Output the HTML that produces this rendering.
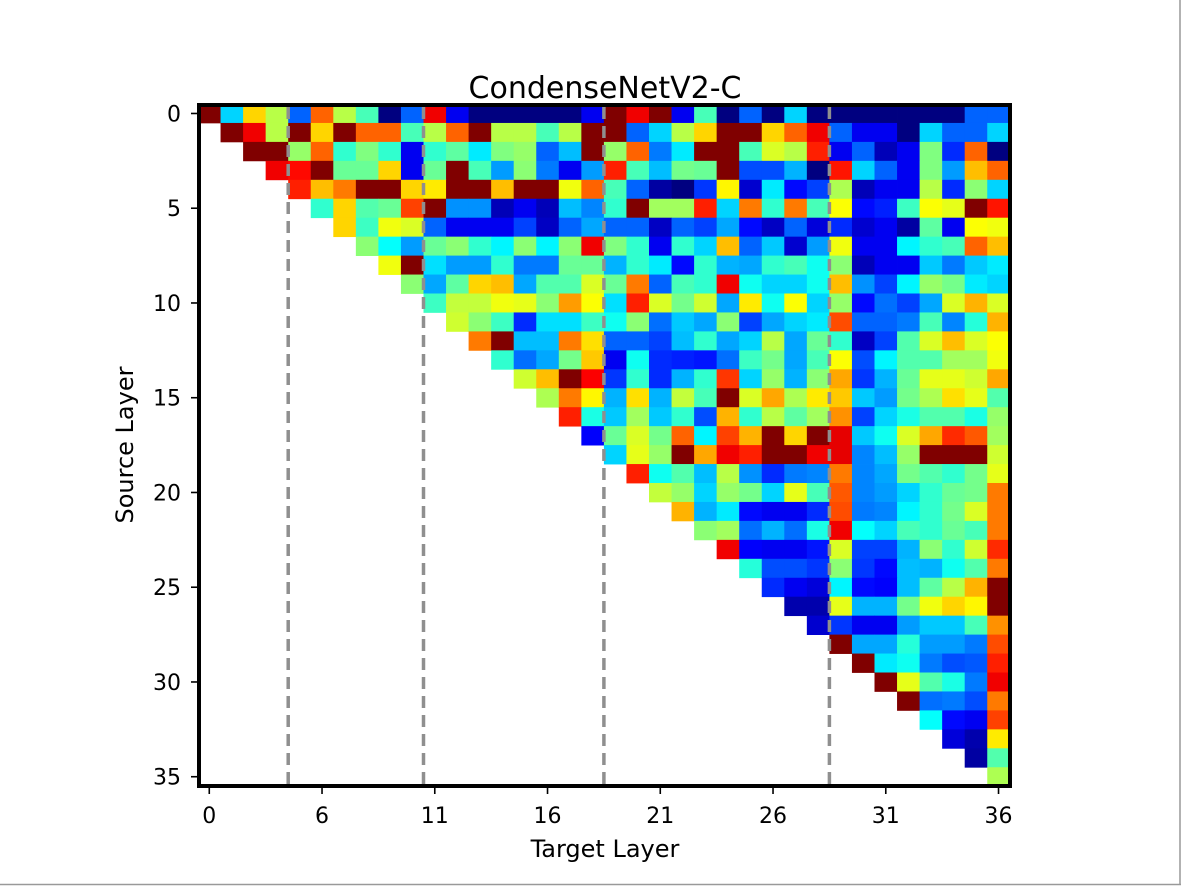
<!DOCTYPE html>
<html><head><meta charset="utf-8"><style>
html,body{margin:0;padding:0;background:#fff;}
#fig{position:relative;width:1181px;height:886px;overflow:hidden;background:#fff;}
svg text{font-family:"DejaVu Sans","Liberation Sans",sans-serif;fill:#000;}
</style></head><body>
<div id="fig">
<svg id="chart" width="1181" height="886" viewBox="0 0 1181 886">
<rect x="0" y="0" width="1181" height="886" fill="#fff"/>
<line x1="1180" y1="0" x2="1180" y2="885" stroke="#999" stroke-width="1.5"/>
<line x1="0" y1="884.5" x2="1181" y2="884.5" stroke="#999" stroke-width="1.5"/>
<defs><clipPath id="plotclip"><rect x="199" y="105" width="811" height="681"/></clipPath></defs>
<g id="cells" clip-path="url(#plotclip)"></g>
<g id="dashes"></g>
<rect x="199" y="105" width="811" height="681" fill="none" stroke="#000" stroke-width="4"/>
<g id="xticks"></g>
<g id="yticks"></g>
<text x="605" y="98" font-size="30" text-anchor="middle">CondenseNetV2-C</text>
<text x="605" y="857" font-size="24" text-anchor="middle">Target Layer</text>
<text x="133" y="445" font-size="24" text-anchor="middle" transform="rotate(-90 133 445)">Source Layer</text>
</svg>
</div>
<script>
// values on a 0-9 scale (0 = lowest, 9 = highest), row r starts at column r
const row00 = [9,3,6,5,2,7,5,4,0,2,8,1,0,0,0,0,0,1,9,8,9,1,4,0,2,0,3,0,0,0,0,0,0,0,2,2];
const row01 = [9,8,5,9,6,9,7,7,4,5,7,9,5,5,4,5,9,9,2,3,5,6,9,9,6,7,8,2,1,1,0,3,2,2,3];
const row02 = [9,9,4.7,7,3.8,4.5,3.8,1,3.8,4.2,3.2,4.5,4.7,2,2.8,9,4.7,7,2.2,3.2,9,9,4,5.3,5,7.6,1,2,0.5,1,4.5,1.5,7,0];
const row03 = [8,7.8,9,4.3,4.3,6,1,4.3,9,4,2.5,4.6,2.2,1,2.5,7.6,4,2.8,4.4,4.3,9,1.8,1.8,2.7,0,7.7,3,2,1,4.5,2.5,6.2,7];
const row04 = [7.6,6.2,6.8,9,9,6,5.8,9,9,6.2,9,9,5.5,7,4,2,0.3,0,1.6,5.7,0.7,3.2,1.2,1.7,4.9,0.5,1,1,5,1.5,4.6,3];
const row05 = [3.8,6,4.1,4.3,7.3,9,2.4,2.4,0.5,1,0.5,2.8,2.3,3.8,9,4.8,4.8,7.6,3,6.8,3.8,6.8,4,5.6,1.2,1.4,3.9,5.6,5.4,9,7.7];
const row06 = [6,3.9,5.5,5.3,2,1,1,1,1.7,0.6,2,2.6,2,2,0.6,2,1.7,2.6,1.2,0.6,2,0.8,1.5,0.7,1,0.3,4.2,1,5.6,5.5];
const row07 = [4.6,3.4,2.5,4.3,4.6,3.8,3.3,4.6,3.3,4.6,8,4.5,3.8,1,3.8,3,6.2,2,2.9,0.7,2.5,5.5,1,1,3.3,3.8,4,7,6.2];
const row08 = [5.5,9,3.1,2.5,2.5,3.8,2.2,2.2,4.3,4.3,2.7,3.8,3.2,1.2,3.8,2.7,2.6,3.8,4,3.5,4.6,0.5,1,1,2.9,2.2,2.9,3.2];
const row09 = [4.6,2.6,4.2,6,6.2,2.6,4.1,4.1,5.3,4.3,6.8,2,4,3.8,8,3.5,3,3,3.5,6.2,2.4,1.7,3.3,4.7,4.4,3.2,3];
const row10 = [3.9,5.1,5.1,5.5,5.4,4.6,6.5,5.6,3.1,7.6,5.3,4.4,5.2,2.6,5.8,3.5,5.6,3,4.7,1.2,2.1,1.7,2.6,5.3,6.3,5.3];
const row11 = [5.2,4.6,3.9,1.5,3.1,3.1,3.9,3.5,4.6,2.1,2.9,2.6,4.6,1.7,2.6,3,3.2,7.2,2,2,2.2,4,2.3,3.7,6.3];
const row12 = [6.8,9,2.8,2.8,6.8,5.9,2,2,1.7,2.8,3.8,2.6,3,5,2.6,4.3,3.8,0.6,1.7,4.1,5.3,6.2,5.3,5.6];
const row13 = [3.8,2.1,2.6,4.4,6.1,1,3.5,1.5,1.4,1.3,2.1,3.9,4.4,2.6,4,5.6,1.8,3.3,4.1,4.1,4.8,4.8,5.5];
const row14 = [5.2,6.2,9,7.9,1.6,3.8,1.5,2.7,3.8,7.4,3,4.7,2.7,4.6,6.4,1.6,2.7,4.3,5.4,5.4,5.2,6.4];
const row15 = [4.9,6.8,5.7,2.7,5.9,2.7,5.1,4,9,5.3,6.4,4.9,5.8,6.1,2.9,2.5,4.4,4.9,5.9,5.4,4.1];
const row16 = [7.6,3.6,2.9,4.8,2.9,3.8,1.8,6.3,3.8,5,4.2,4.8,6.6,1.7,3,3.6,4.1,4.1,3.6,4.7];
const row17 = [1.1,4.3,5.3,4.4,7,3.3,7.3,6.3,9,6,9,8.1,2.9,3.5,5.3,6.4,7.5,7.1,4.8];
const row18 = [3,5.4,4.7,9,6.4,8,7.6,9,9,8,8.1,2.3,2.8,4.7,9,9,9,5.2];
const row19 = [7.6,3.5,4.1,2.8,5,2.4,1.5,2.2,2.3,6.8,2.3,2.6,4.4,4.1,3.8,4.4,5.4];
const row20 = [5.1,4.7,3,4.7,4.4,3,5.4,4,7.1,2.3,2.5,3,3.8,4.3,4.4,6.8];
const row21 = [6.3,2.7,3.2,1.2,1,1,1.5,7.2,2.2,2.3,3.3,3.8,4.4,5.3,6.8];
const row22 = [4.6,4.8,2.1,2.7,2.1,3.6,8,3.4,3,4,3.8,4.3,4,6.8];
const row23 = [8,1.1,1,1,1.3,5.3,1.7,1.7,2.7,4.6,3.8,5.2,7.5];
const row24 = [3.7,1.8,1.8,1.6,4.6,1.6,1.2,2.8,2.7,3.5,4.1,6.8];
const row25 = [1.5,1,0.8,3.3,1.2,1.1,2.8,4.2,5,6.3,9];
const row26 = [0.4,0.4,5.4,2.7,2.7,4.4,5.5,6,5.7,9];
const row27 = [0.7,1.6,1,1,2.5,2.9,2.9,4,6.6];
const row28 = [9,2.6,2.6,3.7,2.5,2.5,2.2,7.2];
const row29 = [9,3.2,3.5,2.2,1.8,1.9,7.6];
const row30 = [9,5.4,4.1,3.6,2.2,8];
const row31 = [9,2.1,2.2,1.8,6.8];
const row32 = [3.4,1.2,1,7.3];
const row33 = [0.8,0.4,5.8];
const row34 = [0.3,4.1];
const row35 = [4.9];
const rows = [row00,row01,row02,row03,row04,row05,row06,row07,row08,row09,row10,row11,row12,row13,row14,row15,row16,row17,row18,row19,row20,row21,row22,row23,row24,row25,row26,row27,row28,row29,row30,row31,row32,row33,row34,row35];
const xTickPositions = [0,5,10,15,20,25,30,35];
const xTickLabels = ["0","6","11","16","21","26","31","36"];
const yTickPositions = [0,5,10,15,20,25,30,35];
const yTickLabels = ["0","5","10","15","20","25","30","35"];
const blockBoundaries = [3.5,9.5,17.5,27.5];
const vmax = 9;

const NS = "http://www.w3.org/2000/svg";
const CW = 22.55, CH = 18.95, X0 = 198, Y0 = 104;
function xLeft(c){ return X0 + CW*c; }
function xCenter(c){ return X0 + CW*(c+0.5); }
function yTop(r){ return Y0 + CH*r; }
function yCenter(r){ return Y0 + CH*(r+0.5); }
function clip(v){ return Math.max(0, Math.min(1, v)); }
function jet(t){
  const r = clip(1.5 - Math.abs(4*t-3)), g = clip(1.5 - Math.abs(4*t-2)), b = clip(1.5 - Math.abs(4*t-1));
  return "rgb(" + Math.round(r*255) + "," + Math.round(g*255) + "," + Math.round(b*255) + ")";
}
const cells = document.getElementById("cells");
rows.forEach(function(vals, r){
  vals.forEach(function(v, i){
    const c = r + i;
    const rect = document.createElementNS(NS, "rect");
    rect.setAttribute("x", xLeft(c).toFixed(2));
    rect.setAttribute("y", yTop(r).toFixed(2));
    rect.setAttribute("width", (CW+0.4).toFixed(2));
    rect.setAttribute("height", (CH+0.4).toFixed(2));
    rect.setAttribute("fill", jet(v/vmax));
    
    
    cells.appendChild(rect);
  });
});
const dashes = document.getElementById("dashes");
blockBoundaries.forEach(function(b){
  const ln = document.createElementNS(NS, "line");
  const x = xCenter(b);
  ln.setAttribute("x1", x); ln.setAttribute("x2", x);
  ln.setAttribute("y1", 107); ln.setAttribute("y2", 784);
  ln.setAttribute("stroke", "#8f8f8f");
  ln.setAttribute("stroke-width", "3.5");
  ln.setAttribute("stroke-dasharray", "12,7");
  
  
  dashes.appendChild(ln);
});
const xt = document.getElementById("xticks");
xTickPositions.forEach(function(p, i){
  const x = xCenter(p);
  const t = document.createElementNS(NS, "line");
  t.setAttribute("x1", x); t.setAttribute("x2", x); t.setAttribute("y1", 788); t.setAttribute("y2", 794);
  t.setAttribute("stroke", "#000"); t.setAttribute("stroke-width", "1.6");
  
  
  xt.appendChild(t);
  const tx = document.createElementNS(NS, "text");
  tx.setAttribute("x", x); tx.setAttribute("y", 823); tx.setAttribute("font-size", "22"); tx.setAttribute("text-anchor", "middle");
  tx.textContent = xTickLabels[i];
  
  
  xt.appendChild(tx);
});
const yt = document.getElementById("yticks");
yTickPositions.forEach(function(p, i){
  const y = yCenter(p);
  const t = document.createElementNS(NS, "line");
  t.setAttribute("x1", 191); t.setAttribute("x2", 197); t.setAttribute("y1", y); t.setAttribute("y2", y);
  t.setAttribute("stroke", "#000"); t.setAttribute("stroke-width", "1.6");
  
  
  yt.appendChild(t);
  const tx = document.createElementNS(NS, "text");
  tx.setAttribute("x", 181); tx.setAttribute("y", y + 8); tx.setAttribute("font-size", "22"); tx.setAttribute("text-anchor", "end");
  tx.textContent = yTickLabels[i];
  
  
  yt.appendChild(tx);
});
</script>
</body></html>
